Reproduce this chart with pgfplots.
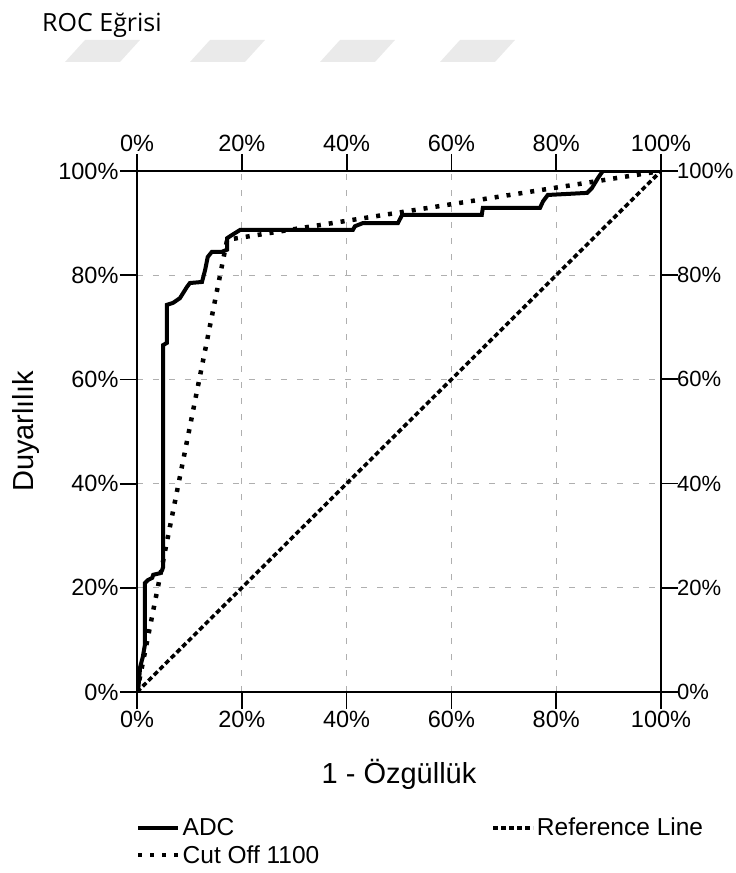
\documentclass[border=0pt]{standalone}
\usepackage{pgfplots}
\pgfplotsset{compat=1.18}
\usepackage{fontspec}
\setmainfont{Liberation Sans}
\newfontfamily\titlefont{Open Sans}
\definecolor{gridgray}{RGB}{175,175,175}
\definecolor{deco}{RGB}{234,234,234}
\begin{document}
\begin{tikzpicture}
\path[use as bounding box] (-137pt,-181pt) rectangle (599pt,692pt);
% decorative header
\node[anchor=base west, inner sep=0pt] at (-95pt,660pt) {\titlefont\fontsize{25}{29}\selectfont ROC Eğrisi};
\foreach \xo in {-72,53,183,303}{
  \fill[deco] (\xo pt,630pt) -- ++(55pt,0pt) -- ++(20pt,22pt) -- ++(-55pt,0pt) -- cycle;
}
\begin{axis}[
  at={(0pt,0pt)}, anchor=south west,
  scale only axis, width=524pt, height=521pt,
  xmin=0, xmax=100, ymin=0, ymax=100,
  axis line style={line width=1.8pt},
  xtick={0,20,40,60,80,100}, ytick={0,20,40,60,80,100},
  xticklabels={0\%,20\%,40\%,60\%,80\%,100\%},
  yticklabels={0\%,20\%,40\%,60\%,80\%,100\%},
  tick align=outside, major tick length=17pt,
  tick style={line width=1.8pt, black},
  xtick pos=bottom, ytick pos=left,
  ticklabel style={font=\fontsize{23.5}{27}\selectfont},
  xticklabel style={yshift=1pt},
  yticklabel style={xshift=2pt},
  grid=major,
  major grid style={gridgray, line width=1pt, dash pattern=on 6pt off 10pt},
  xlabel={1 - Özgüllük}, ylabel={Duyarlılık},
  label style={font=\fontsize{29}{34}\selectfont},
  xlabel style={yshift=-24pt},
  ylabel style={yshift=12pt},
  legend cell align=left,
  legend columns=2, transpose legend,
  legend style={draw=none, fill=none, at={(axis description cs:0,0)}, anchor=north west,
    xshift=-4pt, yshift=-122pt, font=\fontsize{24.5}{28}\selectfont,
    row sep=4pt,
    /tikz/column 2/.style={column sep=170pt}},
  legend image code/.code={\draw[#1] (0pt,0pt) -- (40pt,0pt);},
]
\addplot[black, line width=4pt, line join=miter] coordinates {
(0,0) (0.2,0) (0.6,4.8) (1.1,6.7) (1.5,9.0) (1.5,20.9) (2.1,21.5) (2.9,21.9)
(3.1,22.5) (4.4,22.8) (4.8,23.4) (5.0,24.0) (5.0,66.6) (5.7,67.0) (5.7,74.3)
(6.9,74.7) (8.2,75.6) (9.5,77.7) (10.1,78.5) (12.4,78.7) (13.0,81.0) (13.5,83.5)
(14.3,84.5) (16.2,84.5) (17.2,84.9) (17.2,87.1) (18.1,87.7) (19.7,88.7)
(41.2,88.7) (41.6,89.4) (43.1,90.0) (49.8,90.0) (50.6,91.6) (65.8,91.6)
(66.0,92.9) (76.9,92.9) (77.5,94.2) (78.4,95.4) (85.9,95.8) (86.8,96.7)
(88.0,98.7) (88.9,100) (100,100)
};
\addlegendentry{ADC}
\addplot[black, line width=4.5pt, dash pattern=on 4pt off 8pt] coordinates {
(0,0) (17.2,86.8) (100,100)
};
\addlegendentry{Cut Off 1100}
\addplot[black, line width=3.6pt, dash pattern=on 5pt off 3pt] coordinates {
(0,0) (100,100)
};
\addlegendentry{Reference Line}
\end{axis}
\begin{axis}[
  at={(0pt,0pt)}, anchor=south west,
  scale only axis, width=524pt, height=521pt,
  xmin=0, xmax=100, ymin=0, ymax=100,
  axis x line*=top, axis y line*=right,
  axis line style={line width=1.8pt},
  xtick={0,20,40,60,80,100}, ytick={0,20,40,60,80,100},
  xticklabels={0\%,20\%,40\%,60\%,80\%,100\%},
  yticklabels={0\%,20\%,40\%,60\%,80\%,100\%},
  tick align=outside, major tick length=17pt,
  tick style={line width=1.8pt, black},
  ticklabel style={font=\fontsize{23.5}{27}\selectfont},
  xticklabel style={yshift=-1pt},
  yticklabel style={xshift=-2pt, inner sep=1pt, font=\fontsize{22}{26}\selectfont},
]
\end{axis}
\end{tikzpicture}
\end{document}
